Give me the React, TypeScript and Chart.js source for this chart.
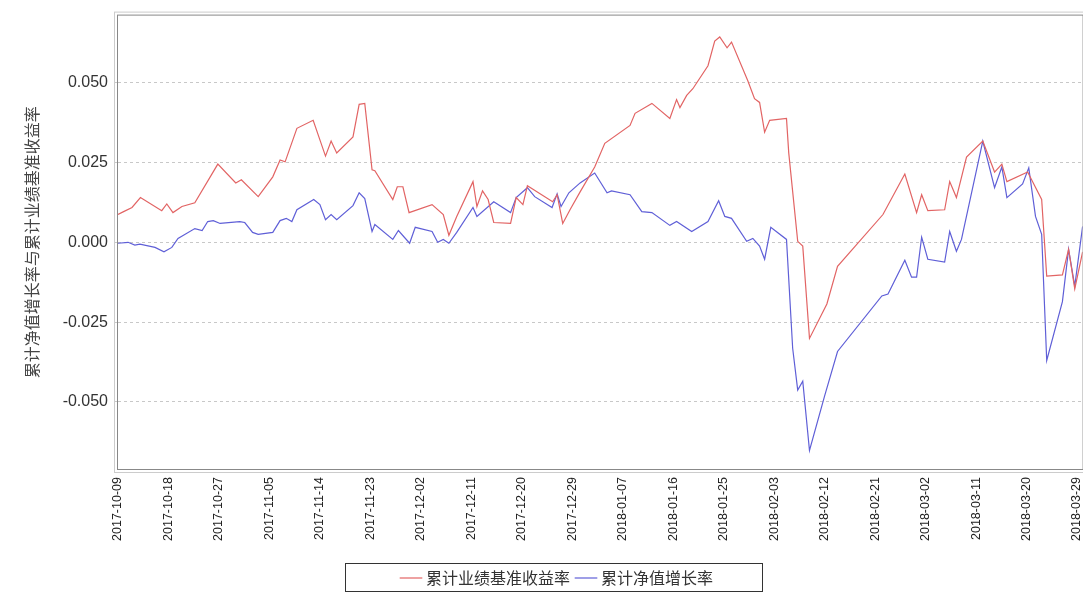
import React, { useEffect, useRef } from "react";
import { Chart, registerables } from "chart.js";
Chart.register(...registerables);

const seriesNames = ["累计业绩基准收益率", "累计净值增长率"];
const xTickLabels = ["2017-10-09","2017-10-18","2017-10-27","2017-11-05","2017-11-14","2017-11-23","2017-12-02","2017-12-11","2017-12-20","2017-12-29","2018-01-07","2018-01-16","2018-01-25","2018-02-03","2018-02-12","2018-02-21","2018-03-02","2018-03-11","2018-03-20","2018-03-29"];
const yTicks = [-0.05, -0.025, 0, 0.025, 0.05];

// [day offset from 2017-10-09, value]
const benchmark: [number, number][] = [
[0,0.0087],[1,0.0096],[2.5,0.0109],[4,0.014],[7.8,0.0099],[8.7,0.012],[9.8,0.0093],[11.4,0.0112],[13.7,0.0124],[17.8,0.0245],[21,0.0186],[22,0.0196],[25,0.0143],[27.6,0.0205],[28.9,0.0258],[29.8,0.0252],[31.9,0.0357],[34.8,0.0382],[37,0.027],[38,0.0317],[39,0.028],[41.9,0.033],[43,0.0432],[44,0.0435],[45.3,0.0227],[45.8,0.0224],[49,0.0134],[49.8,0.0174],[50.8,0.0174],[51.9,0.0093],[56,0.0118],[58,0.0087],[59,0.0022],[60.4,0.0081],[63.3,0.019],[64,0.0112],[65,0.0161],[66,0.0134],[67,0.0062],[70,0.0059],[71,0.014],[72.2,0.0118],[73,0.0177],[77.5,0.0127],[78.3,0.0149],[79.3,0.0059],[80.6,0.0102],[82.4,0.0158],[85,0.0236],[86.8,0.031],[91.3,0.0366],[92.2,0.0404],[95.2,0.0435],[98.4,0.0388],[99.6,0.0447],[100.2,0.0422],[101.4,0.046],[102.5,0.0481],[105.2,0.0553],[106.4,0.063],[107.3,0.0643],[108.6,0.0609],[109.4,0.0627],[112.3,0.0506],[113.5,0.045],[114.4,0.0438],[115.3,0.0345],[116.2,0.0382],[119.2,0.0388],[119.6,0.028],[121.2,0.0003],[122.1,-0.0012],[123.3,-0.0301],[126.4,-0.0193],[128.3,-0.0075],[136.4,0.0087],[140.3,0.0214],[142.4,0.0093],[143.3,0.0149],[144.4,0.0099],[147.4,0.0102],[148.3,0.019],[149.5,0.014],[151.3,0.0267],[154.2,0.0317],[156.3,0.022],[157.6,0.0245],[158.5,0.019],[162.2,0.022],[164.7,0.0134],[165.6,-0.0106],[168.4,-0.0102],[169.5,-0.0022],[170.6,-0.0146],[172,-0.003]];

const nav: [number, number][] = [
[0,-0.0003],[1.8,0],[3,-0.0009],[3.9,-0.0006],[6.6,-0.0016],[8.2,-0.003],[9.6,-0.0016],[10.7,0.0012],[13.7,0.0043],[15,0.0037],[16,0.0065],[17,0.0068],[18.2,0.0059],[21.7,0.0065],[22.6,0.0062],[24,0.0031],[25,0.0025],[27.6,0.0031],[28.9,0.0068],[30,0.0075],[31,0.0065],[31.9,0.0102],[34.9,0.0134],[36,0.0118],[37,0.0071],[38,0.0087],[39,0.0071],[41.9,0.0115],[43,0.0155],[44,0.0137],[45.3,0.0034],[45.8,0.0056],[49,0.0009],[50,0.0037],[52,-0.0003],[53,0.0047],[56,0.0034],[57,0],[58,0.0009],[59,-0.0003],[60.4,0.0031],[63.3,0.0109],[64,0.0081],[67,0.0127],[70,0.0093],[71,0.014],[73,0.0171],[74.3,0.0143],[77.4,0.0109],[78.3,0.0152],[79,0.0112],[80.4,0.0155],[82.4,0.0186],[85,0.0217],[87.2,0.0155],[88,0.0161],[91.3,0.0149],[93.4,0.0096],[95.2,0.0093],[98.4,0.0053],[99.6,0.0065],[102.3,0.0034],[105.2,0.0065],[107.1,0.013],[108.2,0.0081],[109.4,0.0075],[112.1,0.0003],[113.2,0.0012],[114.4,-0.0012],[115.3,-0.0053],[116.4,0.0047],[119.2,0.0009],[120.3,-0.0332],[121.2,-0.0463],[122.1,-0.0435],[123.3,-0.0652],[126,-0.0481],[128.3,-0.0342],[136.2,-0.0168],[137.3,-0.0162],[140.3,-0.0056],[141.5,-0.0109],[142.4,-0.0109],[143.3,0.0016],[144.4,-0.0053],[147.4,-0.0062],[148.3,0.0034],[149.5,-0.0028],[150.4,0.0009],[154.2,0.0317],[156.3,0.0171],[157.6,0.0236],[158.5,0.014],[161.3,0.0183],[162.4,0.0233],[163.6,0.0081],[164.7,0.0025],[165.6,-0.037],[168.4,-0.0186],[169.5,-0.0022],[170.6,-0.0137],[172,0.005]];

const frame = {
  id: "frame",
  afterDraw(chart: any) {
    const { ctx, chartArea: a } = chart;
    ctx.save();
    ctx.strokeStyle = "#888";
    ctx.lineWidth = 1;
    ctx.strokeRect(a.left - 0.5, a.top - 0.5, a.right - a.left + 1, a.bottom - a.top + 1);
    ctx.strokeStyle = "#ccc";
    ctx.strokeRect(a.left - 3.5, a.top - 3.5, a.right - a.left + 7, a.bottom - a.top + 7);
    const lg = chart.legend;
    if (lg) {
      ctx.strokeStyle = "#333";
      ctx.strokeRect(345.5, lg.top + 2.5, 417, 28);
    }
    ctx.restore();
  },
};

export default function App() {
  const ref = useRef<HTMLCanvasElement>(null);
  useEffect(() => {
    document.body.style.margin = "0";
    const chart = new Chart(ref.current!, {
      type: "line",
      data: {
        datasets: [
          { label: seriesNames[0], data: benchmark.map(([x, y]) => ({ x, y })), borderColor: "rgb(226,100,100)", backgroundColor: "rgb(226,100,100)", borderWidth: 1.2, pointRadius: 0, tension: 0 },
          { label: seriesNames[1], data: nav.map(([x, y]) => ({ x, y })), borderColor: "rgb(95,95,215)", backgroundColor: "rgb(95,95,215)", borderWidth: 1.2, pointRadius: 0, tension: 0 },
        ],
      },
      plugins: [frame],
      options: {
        animation: false,
        responsive: false,
        layout: { padding: { top: 15, right: 0, left: 22, bottom: 0 } },
        plugins: {
          tooltip: { enabled: false },
          legend: {
            position: "bottom",
            labels: {
              usePointStyle: true, pointStyle: "line", boxWidth: 14, padding: 9,
              color: "#333", font: { family: "Noto Sans CJK SC", size: 16 },
            },
          },
        },
        scales: {
          x: {
            type: "linear", min: 0, max: 172,
            afterBuildTicks: (s: any) => { s.ticks = xTickLabels.map((_, i) => ({ value: i * 9 })); },
            afterFit: (s: any) => { s.height = 92; },
            ticks: {
              autoSkip: false, maxRotation: 90, minRotation: 90, color: "#222",
              font: { family: "Liberation Sans", size: 12.5 },
              callback: (v: any) => xTickLabels[Math.round(v / 9)] ?? "",
            },
            grid: { display: false, drawOnChartArea: false, drawTicks: true, tickLength: 5, color: "#888" },
            border: { display: false },
          },
          y: {
            min: -0.071, max: 0.071,
            afterBuildTicks: (s: any) => { s.ticks = yTicks.map((value) => ({ value })); },
            afterFit: (s: any) => { s.width = 96; },
            ticks: { color: "#333", font: { family: "Liberation Sans", size: 16 }, callback: (v: any) => Number(v).toFixed(3), padding: 6 },
            grid: { color: "#c8c8c8", tickLength: 4, drawTicks: true },
            border: { display: false, dash: [3, 3] },
            title: { display: true, text: "累计净值增长率与累计业绩基准收益率", color: "#444", font: { family: "Noto Sans CJK SC", size: 16 }, padding: 0 },
          },
        },
      },
    });
    return () => chart.destroy();
  }, []);
  return (
    <div style={{ width: 1083, height: 596, overflow: "hidden" }}>
      <canvas ref={ref} width={1095} height={596} style={{ display: "block" }} />
    </div>
  );
}
